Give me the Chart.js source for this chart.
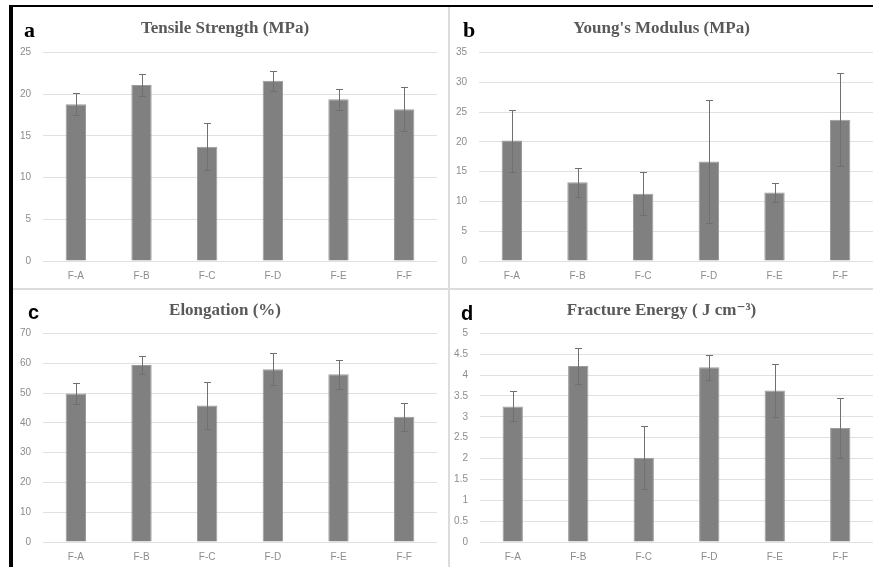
<!DOCTYPE html>
<html>
<head>
<meta charset="utf-8">
<script src="https://cdn.jsdelivr.net/npm/chart.js@4.4.0/dist/chart.umd.min.js"></script>
<style>
  body { margin: 0; background: #fff; width: 873px; height: 567px; position: relative; overflow: hidden; }
  .panel { position: absolute; }
  .line { position: absolute; }
</style>
</head>
<body>
<div class="line" style="left:9px;top:5px;width:864px;height:2px;background:#000"></div>
<div class="line" style="left:9px;top:5px;width:4px;height:562px;background:#000"></div>
<div class="line" style="left:448px;top:7px;width:2px;height:560px;background:#dcdcdc"></div>
<div class="line" style="left:13px;top:288px;width:860px;height:2px;background:#dcdcdc"></div>

<div class="panel" style="left:13px;top:7px;width:435px;height:281px"><canvas id="chartA"></canvas></div>
<div class="panel" style="left:450px;top:7px;width:423px;height:281px"><canvas id="chartB"></canvas></div>
<div class="panel" style="left:13px;top:290px;width:435px;height:277px"><canvas id="chartC"></canvas></div>
<div class="panel" style="left:450px;top:290px;width:423px;height:277px"><canvas id="chartD"></canvas></div>

<script>
const samples = ["F-A", "F-B", "F-C", "F-D", "F-E", "F-F"];

const tensile = [18.8, 21.1, 13.7, 21.6, 19.4, 18.2];
const tensileErr = [1.3, 1.35, 2.8, 1.2, 1.25, 2.6];

const modulus = [20.2, 13.2, 11.3, 16.7, 11.5, 23.7];
const modulusErr = [5.2, 2.4, 3.6, 10.3, 1.55, 7.8];

const elongation = [49.8, 59.4, 45.8, 58.0, 56.3, 42.0];
const elongationErr = [3.5, 3.0, 8.0, 5.4, 4.9, 4.8];

const fracture = [3.25, 4.22, 2.02, 4.19, 3.63, 2.73];
const fractureErr = [0.36, 0.43, 0.75, 0.3, 0.64, 0.72];

// draws the error bars through the chart's own scales
const errorBars = {
  id: "errorBars",
  afterDatasetsDraw(chart) {
    const ctx = chart.ctx;
    const meta = chart.getDatasetMeta(0);
    const errs = chart.options.plugins.errorBars.errors;
    const y = chart.scales.y;
    ctx.save();
    ctx.strokeStyle = "#707070";
    ctx.lineWidth = 1;
    meta.data.forEach((bar, i) => {
      const v = chart.data.datasets[0].data[i];
      const top = Math.round(y.getPixelForValue(v + errs[i]));
      const bot = Math.round(y.getPixelForValue(v - errs[i]));
      const x = Math.round(bar.x) + 0.5;
      ctx.beginPath();
      ctx.moveTo(x, top); ctx.lineTo(x, bot);
      ctx.moveTo(x - 3.5, top + 0.5); ctx.lineTo(x + 3.5, top + 0.5);
      ctx.moveTo(x - 3.5, bot + 0.5); ctx.lineTo(x + 3.5, bot + 0.5);
      ctx.stroke();
    });
    ctx.restore();
  }
};

const panelLetter = {
  id: "panelLetter",
  afterDraw(chart) {
    const o = chart.options.plugins.panelLetter;
    const ctx = chart.ctx;
    ctx.save();
    ctx.fillStyle = "#000";
    ctx.font = o.font;
    ctx.textBaseline = "alphabetic";
    ctx.fillText(o.text, o.x, o.y);
    ctx.restore();
  }
};

function makeChart(id, title, values, errs, max, step, letter, sizes) {
  new Chart(id, {
    type: "bar",
    data: {
      labels: samples,
      datasets: [{
        data: values,
        backgroundColor: "#808080",
        borderColor: "#9c9c9c",
        borderWidth: 1,
        categoryPercentage: 1,
        barPercentage: 0.31
      }]
    },
    options: {
      responsive: true,
      maintainAspectRatio: false,
      animation: false,
      layout: { padding: { left: 0, right: sizes.right, top: 0, bottom: 0 } },
      plugins: {
        legend: { display: false },
        tooltip: { enabled: false },
        title: {
          display: true,
          text: title,
          color: "#595959",
          font: { family: "'Liberation Serif', 'DejaVu Serif'", size: 17, weight: "bold" },
          padding: { top: sizes.titleTop, bottom: sizes.titleBottom }
        },
        errorBars: { errors: errs },
        panelLetter: letter
      },
      scales: {
        x: {
          grid: { display: false, drawTicks: false },
          border: { display: false },
          ticks: { color: "#8c8c8c", font: { family: "Liberation Sans", size: 10 }, padding: 9 },
          afterFit: (s) => { s.height = sizes.xh; }
        },
        y: {
          min: 0,
          max: max,
          grid: { color: "#e0e0e0", drawTicks: false },
          border: { display: false },
          ticks: {
            stepSize: step,
            color: "#8c8c8c",
            font: { family: "Liberation Sans", size: 10 },
            padding: 12,
            callback: (v) => String(+v.toFixed(1))
          },
          afterFit: (s) => { s.width = sizes.yw; }
        }
      }
    },
    plugins: [errorBars, panelLetter]
  });
}

makeChart("chartA", "Tensile Strength (MPa)", tensile, tensileErr, 25, 5,
  { text: "a", x: 11, y: 30, font: "bold 22px 'Liberation Serif'" },
  { right: 11, titleTop: 11, titleBottom: 14, xh: 27, yw: 30 });

makeChart("chartB", "Young's Modulus (MPa)", modulus, modulusErr, 35, 5,
  { text: "b", x: 13, y: 30, font: "bold 22px 'Liberation Serif'" },
  { right: 0, titleTop: 11, titleBottom: 14, xh: 27, yw: 29 });

makeChart("chartC", "Elongation (%)", elongation, elongationErr, 70, 10,
  { text: "c", x: 15, y: 29, font: "bold 20px 'Liberation Sans'" },
  { right: 11, titleTop: 10, titleBottom: 13, xh: 25, yw: 30 });

makeChart("chartD", "Fracture Energy ( J cm\u207B\u00B3)", fracture, fractureErr, 5, 0.5,
  { text: "d", x: 11, y: 30, font: "bold 20px 'Liberation Sans'" },
  { right: 0, titleTop: 10, titleBottom: 13, xh: 25, yw: 30 });
</script>
</body>
</html>
